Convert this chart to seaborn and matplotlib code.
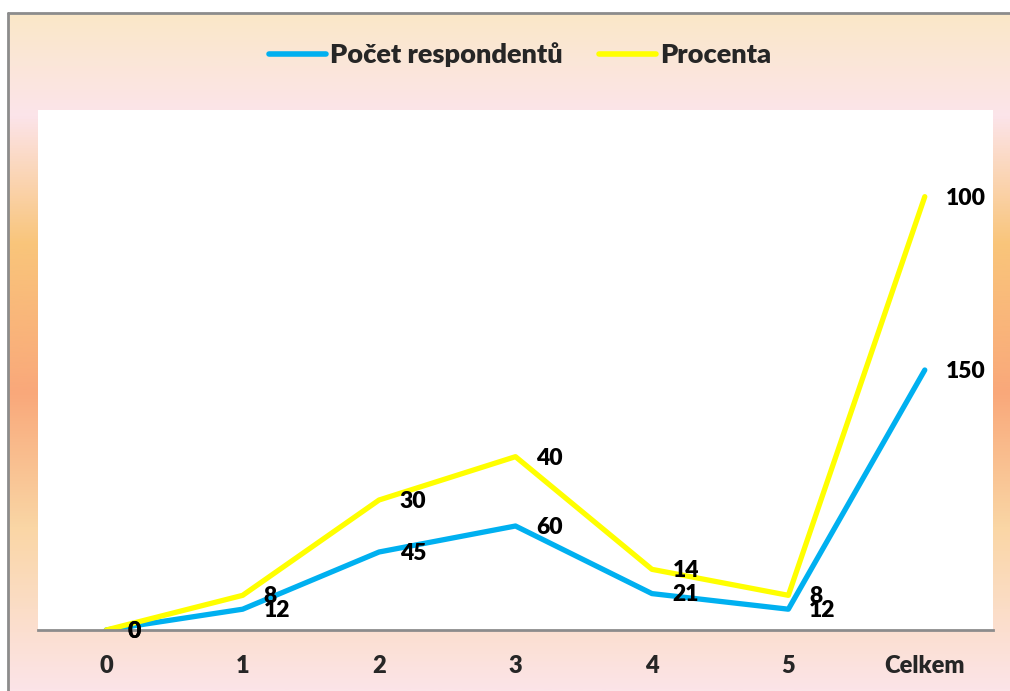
import numpy as np
import pandas as pd
import matplotlib
matplotlib.use("Agg")
import matplotlib.pyplot as plt
from matplotlib.colors import LinearSegmentedColormap
from matplotlib.lines import Line2D
import seaborn as sns

# Survey results: number of respondents and share in percent per answer
categories = ["0", "1", "2", "3", "4", "5", "Celkem"]
respondents = [0, 12, 45, 60, 21, 12, 150]
percent = [0, 8, 30, 40, 14, 8, 100]
series_names = ["Počet respondentů", "Procenta"]
series_colors = ["#00B0F0", "#FFFF00"]

sns.set_theme(style="white")
plt.rcParams["font.family"] = ["Lato", "DejaVu Sans"]
WEIGHT = "heavy"
plt.rcParams["font.weight"] = WEIGHT

W, H = 1010, 691
fig = plt.figure(figsize=(W / 100, H / 100), dpi=100)
fig.patch.set_facecolor("white")

# Chart area background: vertical peach / pink / orange gradient
bg = fig.add_axes([8 / W, 0, 1 - 8 / W, (H - 13) / H], zorder=0)
stops = [
    (0.00, (250, 232, 200)),
    (0.15, (252, 228, 234)),
    (0.34, (249, 197, 122)),
    (0.56, (249, 168, 122)),
    (0.76, (250, 214, 165)),
    (1.00, (252, 228, 232)),
]
cmap = LinearSegmentedColormap.from_list(
    "bg", [(p, tuple(c / 255 for c in rgb)) for p, rgb in stops]
)
grad = np.linspace(0, 1, 512).reshape(-1, 1)
bg.imshow(grad, aspect="auto", cmap=cmap, extent=[0, 1, 1, 0])
bg.set_xlim(0, 1)
bg.set_ylim(1, 0)
bg.axis("off")

# Outer frame (top and left edges visible)
fig.add_artist(Line2D([8 / W, 1], [(H - 13) / H] * 2, color="#8C8C8C", lw=2))
fig.add_artist(Line2D([8 / W] * 2, [0, (H - 13) / H], color="#8C8C8C", lw=2))

# Plot area
ax = fig.add_axes([38 / W, (H - 630) / H, (993 - 38) / W, (630 - 110) / H], zorder=1)
ax.set_facecolor("white")

# Stacked lines: the percent series sits on top of the respondent counts
x = np.arange(len(categories))
stacked_pct = np.array(respondents) + np.array(percent)
df = pd.DataFrame({
    "x": np.concatenate([x, x]),
    "y": np.concatenate([respondents, stacked_pct]),
    "series": [series_names[0]] * len(x) + [series_names[1]] * len(x),
})
sns.lineplot(data=df, x="x", y="y", hue="series", palette=series_colors,
             linewidth=3.8, ax=ax, legend=False, solid_capstyle="round")

label_kw = dict(fontsize=16.5, fontweight=WEIGHT, color="black",
                va="center", ha="left")
for xi, yi, v in zip(x, respondents, respondents):
    ax.annotate(str(v), (xi, yi), xytext=(15, -1), textcoords="offset points", **label_kw)
for xi, yi, v in zip(x, stacked_pct, percent):
    ax.annotate(str(v), (xi, yi), xytext=(15, -1), textcoords="offset points", **label_kw)

ax.set_xlim(-0.5, len(categories) - 0.5)
ax.set_ylim(0, 300)
ax.set_xticks(x)
ax.set_xticklabels(categories, fontsize=17, fontweight=WEIGHT)
ax.tick_params(axis="x", length=0, pad=18)
ax.set_yticks([])
ax.set_xlabel("")
ax.set_ylabel("")
for side in ["top", "left", "right"]:
    ax.spines[side].set_visible(False)
ax.spines["bottom"].set_color("#8C8C8C")
ax.spines["bottom"].set_linewidth(2)

handles = [Line2D([], [], color=c, lw=4, solid_capstyle="round") for c in series_colors]
fig.legend(handles, series_names, loc="center", bbox_to_anchor=(520 / W, 1 - 55 / H),
           ncol=2, frameon=False, handlelength=2.1, handletextpad=0.15,
           columnspacing=1.35, prop={"weight": WEIGHT, "size": 19.5})

fig.savefig("out.png", dpi=100)
